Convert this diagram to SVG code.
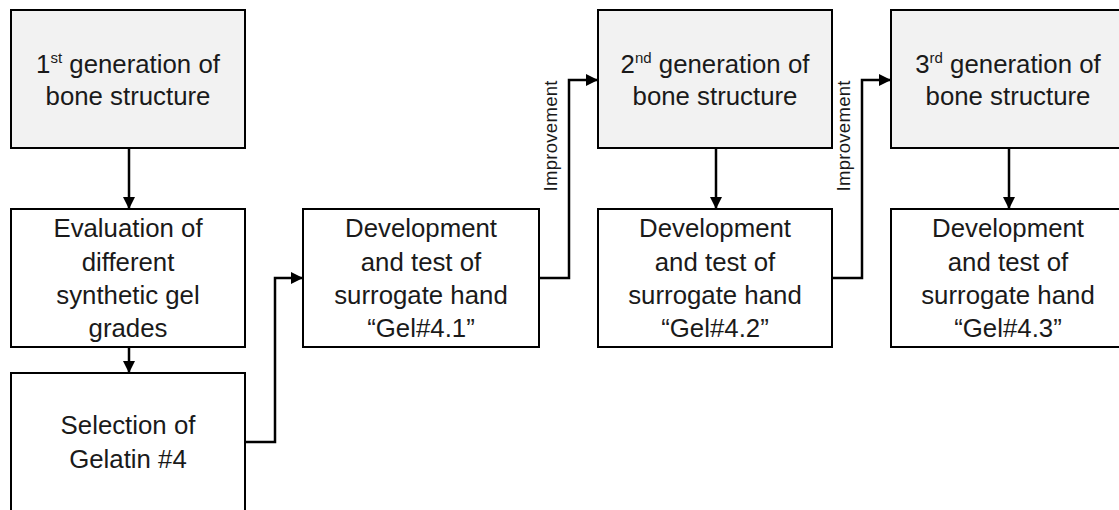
<svg xmlns="http://www.w3.org/2000/svg" width="1119" height="510" viewBox="0 0 1119 510">
<style>
  .box { fill: #ffffff; stroke: #000000; stroke-width: 2; }
  .gen { fill: #f2f2f2; stroke: #000000; stroke-width: 2; }
  .t { font-family: "Liberation Sans", Arial, sans-serif; font-size: 25.8px; fill: #1a1a1a; text-anchor: middle; }
  .sup { font-size: 15px; }
  .lbl { font-family: "Liberation Sans", Arial, sans-serif; font-size: 18.5px; fill: #1a1a1a; text-anchor: middle; }
  .c { fill: none; stroke: #000000; stroke-width: 2.5; marker-end: url(#arr); }
</style>
<defs>
  <marker id="arr" markerUnits="userSpaceOnUse" markerWidth="13" markerHeight="13" refX="12" refY="6" orient="auto">
    <path d="M0,0 L12,6 L0,12 z" fill="#000000"/>
  </marker>
</defs>
<rect width="1119" height="510" fill="#ffffff"/>

<g id="connectors">
  <path class="c" d="M129,148 L129,209"/>
  <path class="c" d="M129,347 L129,373"/>
  <path class="c" d="M245,442 L275,442 L275,278 L303,278"/>
  <path class="c" d="M539,278 L569,278 L569,80 L598,80"/>
  <path class="c" d="M716,148 L716,209"/>
  <path class="c" d="M832,278 L862,278 L862,80 L891,80"/>
  <path class="c" d="M1009,148 L1009,209"/>
  <text class="lbl" transform="translate(557,136) rotate(-90)" textLength="111" lengthAdjust="spacing">Improvement</text>
  <text class="lbl" transform="translate(850,136) rotate(-90)" textLength="111" lengthAdjust="spacing">Improvement</text>
</g>

<g id="gen1">
  <rect class="gen" x="11" y="10" width="234" height="138"/>
  <text class="t" x="128" y="73">1<tspan class="sup" dy="-10">st</tspan><tspan dy="10"> generation of</tspan></text>
  <text class="t" x="128" y="105">bone structure</text>
</g>

<g id="evaluation">
  <rect class="box" x="11" y="209" width="234" height="138"/>
  <text class="t" x="128" y="237">Evaluation of</text>
  <text class="t" x="128" y="271">different</text>
  <text class="t" x="128" y="304">synthetic gel</text>
  <text class="t" x="128" y="337">grades</text>
</g>

<g id="selection">
  <rect class="box" x="11" y="373" width="234" height="150"/>
  <text class="t" x="128" y="434">Selection of</text>
  <text class="t" x="128" y="468">Gelatin #4</text>
</g>

<g id="gel41">
  <rect class="box" x="303" y="209" width="236" height="138"/>
  <text class="t" x="421" y="237">Development</text>
  <text class="t" x="421" y="271">and test of</text>
  <text class="t" x="421" y="304">surrogate hand</text>
  <text class="t" x="421" y="337">“Gel#4.1”</text>
</g>

<g id="gen2">
  <rect class="gen" x="598" y="10" width="234" height="138"/>
  <text class="t" x="715" y="73">2<tspan class="sup" dy="-10">nd</tspan><tspan dy="10"> generation of</tspan></text>
  <text class="t" x="715" y="105">bone structure</text>
</g>

<g id="gel42">
  <rect class="box" x="598" y="209" width="234" height="138"/>
  <text class="t" x="715" y="237">Development</text>
  <text class="t" x="715" y="271">and test of</text>
  <text class="t" x="715" y="304">surrogate hand</text>
  <text class="t" x="715" y="337">“Gel#4.2”</text>
</g>

<g id="gen3">
  <rect class="gen" x="891" y="10" width="236" height="138"/>
  <text class="t" x="1008" y="73">3<tspan class="sup" dy="-10">rd</tspan><tspan dy="10"> generation of</tspan></text>
  <text class="t" x="1008" y="105">bone structure</text>
</g>

<g id="gel43">
  <rect class="box" x="891" y="209" width="236" height="138"/>
  <text class="t" x="1008" y="237">Development</text>
  <text class="t" x="1008" y="271">and test of</text>
  <text class="t" x="1008" y="304">surrogate hand</text>
  <text class="t" x="1008" y="337">“Gel#4.3”</text>
</g>
</svg>
